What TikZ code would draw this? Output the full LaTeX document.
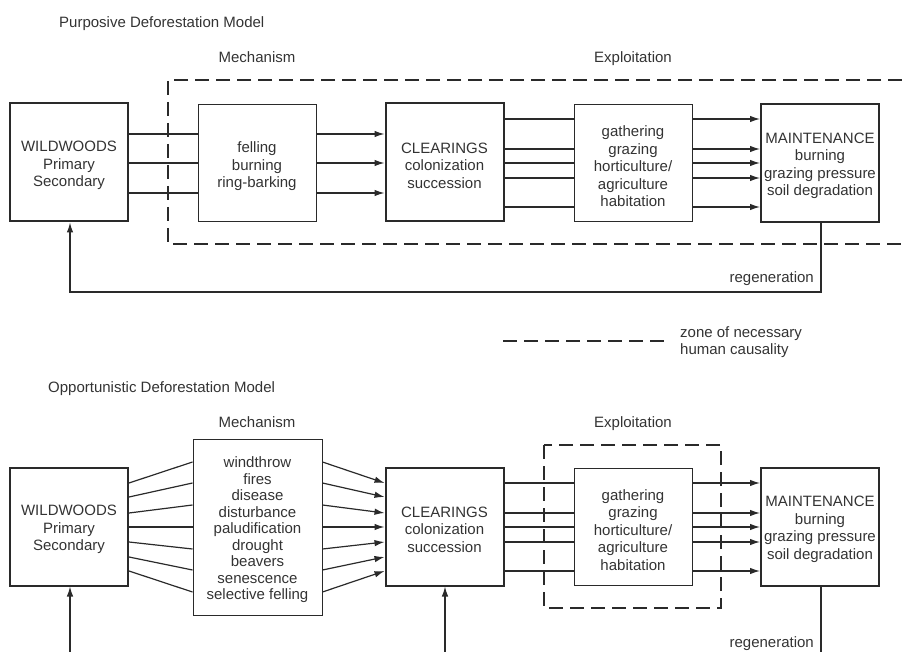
\documentclass[tikz,border=0pt]{standalone}
\usepackage{fontspec}
\setmainfont{Liberation Sans}
\usetikzlibrary{arrows.meta}
\definecolor{txt}{HTML}{333333}
\definecolor{ln}{HTML}{2A2A2A}
\newcommand{\toplift}{\rule{0pt}{16.5pt}}
\begin{document}
\begin{tikzpicture}[x=1pt,y=-1pt,
  every node/.style={font=\fontsize{15}{17.5}\selectfont, text=txt, inner sep=0pt},
  boxtext/.style={align=center},
  thickbox/.style={boxtext, draw=ln, line width=2pt, minimum width=118pt, minimum height=118pt},
  thinbox/.style={boxtext, draw=ln, line width=1pt, minimum width=118pt, minimum height=117pt},
  conn/.style={draw=ln, line width=1.2pt},
  arr/.style={conn, -{Latex[length=10pt,width=6.5pt]}},
  zone/.style={draw=ln, line width=2pt, dash pattern=on 14pt off 7pt},
  hdr/.style={anchor=base}]
\useasboundingbox (0,0) rectangle (902,652);

% ---------- Top: Purposive ----------
\node[anchor=base west] (t1) at (59,28) {Purposive Deforestation Model};
\node[hdr] (m1) at (257,63) {Mechanism};
\node[hdr] (e1) at (633,63) {Exploitation};

\draw[zone] (902,80) -- (168,80) -- (168,244) -- (902,244);

\node[thickbox] (ww1) at (69,162.5) {\toplift WILDWOODS\\Primary\\Secondary};
\node[thinbox] (me1) at (257,163.5) {\toplift felling\\burning\\ring-barking};
\node[thickbox] (cl1) at (444.5,162.5) {\toplift CLEARINGS\\colonization\\succession};
\node[thinbox] (ex1) at (633,163.5) {\toplift gathering\\grazing\\horticulture/\\agriculture\\habitation};
\node[thickbox] (ma1) at (820,163) {\toplift MAINTENANCE\\burning\\grazing pressure\\soil degradation};

\foreach \y in {134,163,193}{
  \draw[conn] (ww1.east |- 0,\y) -- (me1.west |- 0,\y);
  \draw[arr] (me1.east |- 0,\y) -- (cl1.west |- 0,\y);
}
\foreach \y in {119,149,163,178,207}{
  \draw[conn] (cl1.east |- 0,\y) -- (ex1.west |- 0,\y);
  \draw[arr] (ex1.east |- 0,\y) -- (ma1.west |- 0,\y);
}
\draw[arr] (ma1.south -| 821,0) -- (821,292) -- (70,292) -- (ww1.south -| 70,0);
\node[anchor=base east] (rg1) at (814,283) {regeneration};

% legend
\coordinate (lgA) at (503,341);
\coordinate (lgB) at (667,341);
\draw[zone] (lgA) -- (lgB);
\node[anchor=west, align=left, font=\fontsize{15}{16.5}\selectfont] (lgt) at (680,342) {zone of necessary\\human causality};

% ---------- Bottom: Opportunistic ----------
\node[anchor=base west] (t2) at (48,392) {Opportunistic Deforestation Model};
\node[hdr] (m2) at (257,427) {Mechanism};
\node[hdr] (e2) at (633,427) {Exploitation};

\draw[zone] (544,445) rectangle (721,608);

\node[thickbox] (ww2) at (69,526.5) {\toplift WILDWOODS\\Primary\\Secondary};
\node[thinbox, minimum width=129pt, minimum height=176pt, font=\fontsize{15}{16.5}\selectfont] (me2) at (257.5,527)
  {\toplift windthrow\\fires\\disease\\disturbance\\paludification\\drought\\beavers\\senescence\\selective felling};
\node[thickbox] (cl2) at (444.5,526.5) {\toplift CLEARINGS\\colonization\\succession};
\node[thinbox] (ex2) at (633,527) {\toplift gathering\\grazing\\horticulture/\\agriculture\\habitation};
\node[thickbox] (ma2) at (820,526.5) {\toplift MAINTENANCE\\burning\\grazing pressure\\soil degradation};

\foreach \a/\b in {483/462,497/483,513/505,527/527,542/549,557/570,571/592}{
  \draw[conn] (ww2.east |- 0,\a) -- (me2.west |- 0,\b);
  \draw[arr] (me2.east |- 0,\b) -- (cl2.west |- 0,\a);
}
\foreach \y in {483,513,527,542,571}{
  \draw[conn] (cl2.east |- 0,\y) -- (ex2.west |- 0,\y);
  \draw[arr] (ex2.east |- 0,\y) -- (ma2.west |- 0,\y);
}
\coordinate (bw) at (70,652);
\coordinate (bc) at (445,652);
\coordinate (bm) at (821,652);
\draw[arr] (bw) -- (ww2.south -| bw);
\draw[arr] (bc) -- (cl2.south -| bc);
\draw[conn] (ma2.south -| bm) -- (bm);
\node[anchor=base east] (rg2) at (814,647) {regeneration};
\end{tikzpicture}
\end{document}
